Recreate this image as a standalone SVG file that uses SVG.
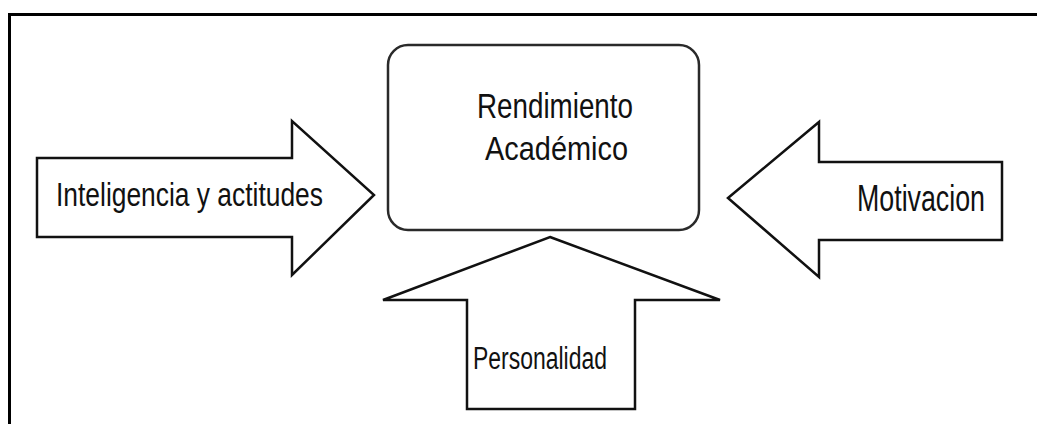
<svg xmlns="http://www.w3.org/2000/svg" width="1037" height="424" viewBox="0 0 1037 424">
  <style>
    .shape { fill: #ffffff; stroke: #111111; stroke-width: 2.5; stroke-linejoin: miter; }
    .box { fill: #ffffff; stroke: #2a2a2a; stroke-width: 2.5; }
    .lbl { font-family: "Liberation Sans", Arial, sans-serif; fill: #111111; }
  </style>
  <rect x="0" y="0" width="1037" height="424" fill="#ffffff"/>
  <path d="M9.5,424 V14.5 H1037" fill="none" stroke="#000000" stroke-width="3"/>

  <g id="rendimiento">
    <rect class="box" x="388" y="45" width="311" height="185" rx="20" ry="20"/>
    <text class="lbl" x="477" y="118" font-size="35" textLength="156" lengthAdjust="spacingAndGlyphs">Rendimiento</text>
    <text class="lbl" x="485" y="160" font-size="33" textLength="143" lengthAdjust="spacingAndGlyphs">Académico</text>
  </g>

  <g id="inteligencia">
    <polygon class="shape" points="37,158 292,158 292,121 374,195 292,275 292,237 37,237"/>
    <text class="lbl" x="56" y="206" font-size="33" textLength="267" lengthAdjust="spacingAndGlyphs">Inteligencia y actitudes</text>
  </g>

  <g id="motivacion">
    <polygon class="shape" points="728,198 819,122 819,162 1002,162 1002,240 819,240 819,277"/>
    <text class="lbl" x="857" y="211" font-size="36" textLength="128" lengthAdjust="spacingAndGlyphs">Motivacion</text>
  </g>

  <g id="personalidad">
    <polygon class="shape" points="550,237 720,300 635,300 635,409 467,409 467,300 383,300"/>
    <text class="lbl" x="473" y="369" font-size="31" textLength="134" lengthAdjust="spacingAndGlyphs">Personalidad</text>
  </g>

  <g id="connectors"/>
</svg>
